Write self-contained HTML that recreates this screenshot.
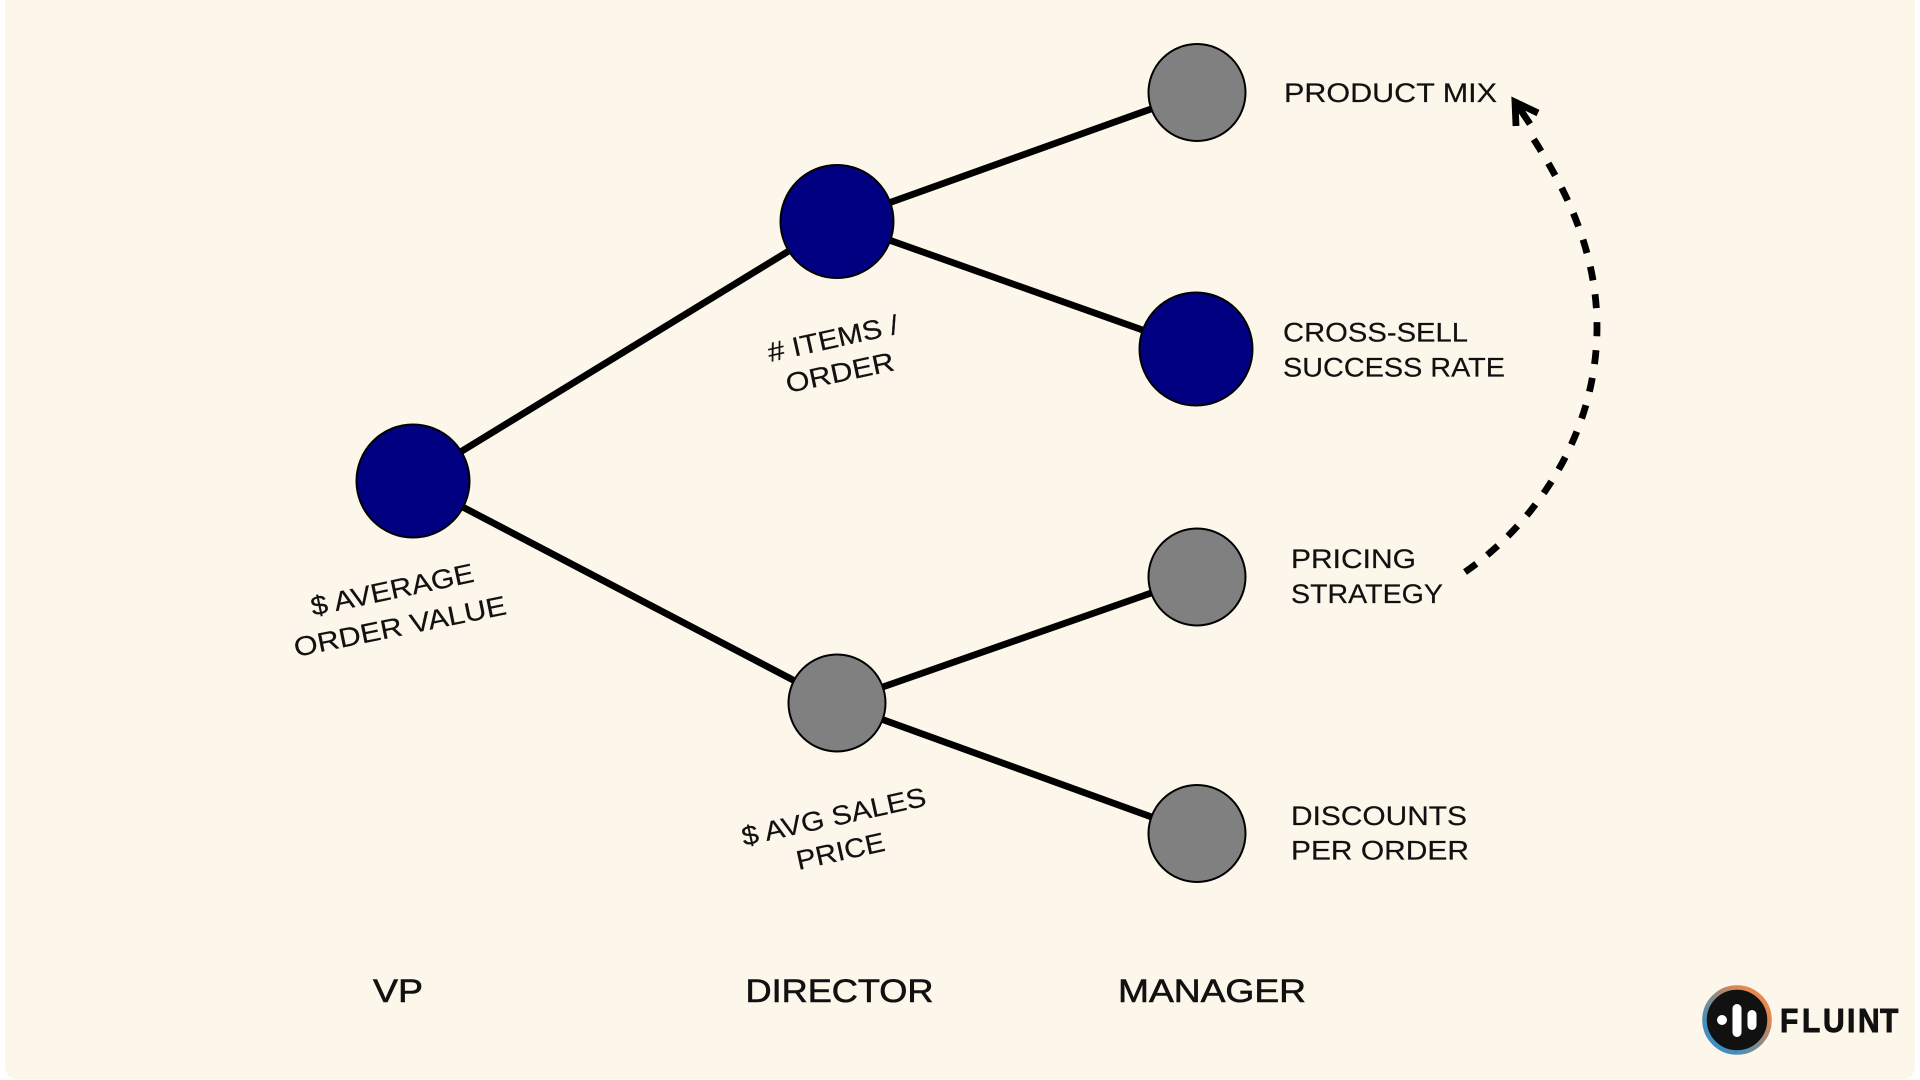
<!DOCTYPE html>
<html><head><meta charset="utf-8"><style>
html,body{margin:0;padding:0;background:#fff;width:1920px;height:1080px;overflow:hidden}
svg{display:block}
text{font-family:"Liberation Sans",sans-serif;fill:#111;font-size:27px;stroke:#111;stroke-width:.2px}
.b{font-size:32px;stroke-width:.6px}
.r{font-size:27px}
</style></head><body>
<svg width="1920" height="1080" viewBox="0 0 1920 1080" xmlns="http://www.w3.org/2000/svg">
<defs><linearGradient id="g" x1="0" y1="1" x2="1" y2="0"><stop offset="0.2" stop-color="#3f8fc4"/><stop offset="0.5" stop-color="#8a8a85"/><stop offset="0.8" stop-color="#e8874e"/></linearGradient></defs>
<rect x="5" y="-12" width="1910" height="1091" rx="12" fill="#fdf6ea"/>
<g stroke="#000" stroke-width="6.8" fill="none">
<path d="M413 481L837 221.5M413 481L837 703M837 221.5L1197 92.5M837 221.5L1196 349M837 703L1197 577M837 703L1197 833.5"/>
<path d="M1465 572C1540 520 1597 430 1597 327C1597 245 1560 180 1531 135" stroke-dasharray="14 14"/>
<path d="M1516 126L1515 102L1538 113M1516 103L1530 124"/>
</g>
<g stroke="#000" stroke-width="2">
<circle cx="413" cy="481" r="56.5" fill="#000080"/>
<circle cx="837" cy="221.5" r="56.5" fill="#000080"/>
<circle cx="1196" cy="349" r="56.5" fill="#000080"/>
<circle cx="837" cy="703" r="48.5" fill="#808080"/>
<circle cx="1197" cy="92.5" r="48.5" fill="#808080"/>
<circle cx="1197" cy="577" r="48.5" fill="#808080"/>
<circle cx="1197" cy="833.5" r="48.5" fill="#808080"/>
</g>
<text x="1284" y="102" textLength="213" lengthAdjust="spacingAndGlyphs">PRODUCT MIX</text>
<text x="1283" y="341.5" textLength="185" lengthAdjust="spacingAndGlyphs">CROSS-SELL</text>
<text x="1283" y="376.5" textLength="222" lengthAdjust="spacingAndGlyphs">SUCCESS RATE</text>
<text x="1291" y="568" textLength="125" lengthAdjust="spacingAndGlyphs">PRICING</text>
<text x="1291" y="603" textLength="152" lengthAdjust="spacingAndGlyphs">STRATEGY</text>
<text x="1291" y="825" textLength="176" lengthAdjust="spacingAndGlyphs">DISCOUNTS</text>
<text x="1291" y="859.500" textLength="178" lengthAdjust="spacingAndGlyphs">PER ORDER</text>
<text class="r" transform="translate(313 616) rotate(-12)" textLength="166" lengthAdjust="spacingAndGlyphs">$ AVERAGE</text>
<text class="r" transform="translate(296 657) rotate(-11.5)" textLength="216" lengthAdjust="spacingAndGlyphs">ORDER VALUE</text>
<text class="r" transform="translate(770 362) rotate(-12.5)" textLength="133" lengthAdjust="spacingAndGlyphs"># ITEMS /</text>
<text class="r" transform="translate(788 393) rotate(-12)" textLength="110" lengthAdjust="spacingAndGlyphs">ORDER</text>
<text class="r" transform="translate(744 846) rotate(-12.500)" textLength="188" lengthAdjust="spacingAndGlyphs">$ AVG SALES</text>
<text class="r" transform="translate(798.500 870) rotate(-12.5)" textLength="90" lengthAdjust="spacingAndGlyphs">PRICE</text>
<text class="b" x="373" y="1002" textLength="50" lengthAdjust="spacingAndGlyphs">VP</text>
<text class="b" x="745.500" y="1002" textLength="188" lengthAdjust="spacingAndGlyphs">DIRECTOR</text>
<text class="b" x="1118" y="1002" textLength="188" lengthAdjust="spacingAndGlyphs">MANAGER</text>
<circle cx="1737" cy="1020" r="32.5" fill="#111" stroke="url(#g)" stroke-width="4.5"/>
<circle cx="1722" cy="1020" r="5" fill="#fff"/>
<rect x="1732.5" y="1004" width="9" height="33" rx="4.5" fill="#fff"/>
<rect x="1747.5" y="1010" width="9" height="20" rx="4.5" fill="#fff"/>
<text transform="translate(0 1032) scale(1 1.1)" x="1780 1802 1823 1847 1858 1880" y="0" style="font-size:30px;font-weight:bold;stroke:#111;stroke-width:.8px">FLUINT</text>
</svg>
</body></html>
